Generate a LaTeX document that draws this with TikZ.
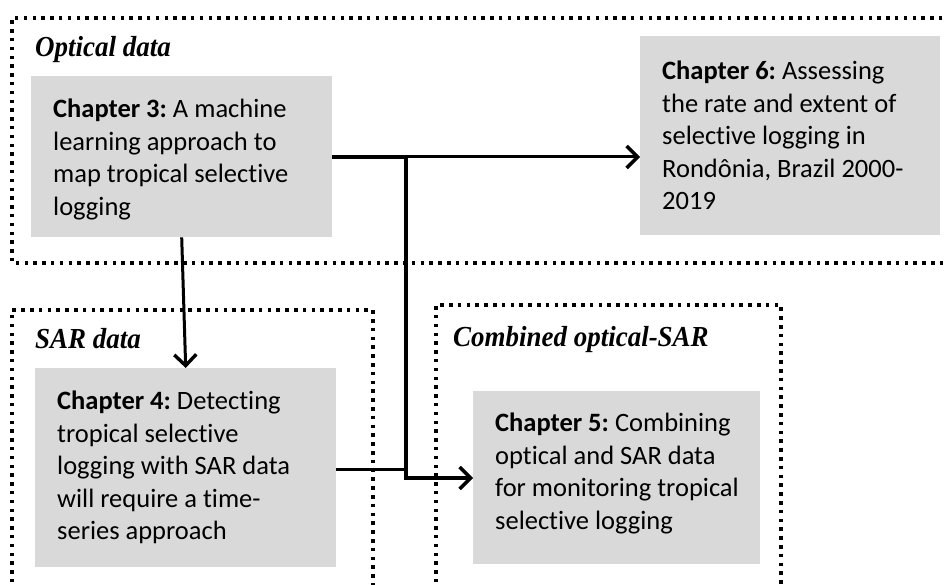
\documentclass[tikz,border=0pt]{standalone}
\usepackage{fontspec}
\setmainfont{Carlito}[Ligatures=NoCommon]
\newfontfamily\headfont{Liberation Serif}[FakeStretch=0.93]
\usetikzlibrary{arrows.meta}
\definecolor{boxgray}{HTML}{D9D9D9}
\newcommand{\chapsetup}{\fontsize{26.5}{32.5}\selectfont\frenchspacing}
\tikzset{
  chapbox/.style={fill=boxgray, draw=none, anchor=north west, inner sep=0pt},
  chaptext/.style={anchor=west, inner sep=0pt, align=left, font=\chapsetup},
  grouplabel/.style={anchor=base west, inner sep=0pt,
    font=\headfont\bfseries\itshape\fontsize{29}{34}\selectfont},
  groupframe/.style={line width=3.2pt, dash pattern=on 3.5pt off 5.3pt},
  link/.style={line width=3pt},
  boldlink/.style={line width=4.6pt},
  barb/.style={-{Straight Barb[length=11pt,width=22pt,line width=3.4pt]}},
}
\begin{document}
\begin{tikzpicture}[x=1pt,y=-1pt]
\useasboundingbox (0,0) rectangle (947,585);

% dotted group frames (open where they leave the page)
\draw[groupframe] (960,18) -- (12,18) -- (12,263) -- (960,263);
\draw[groupframe] (12,600) -- (12,310) -- (373,310) -- (373,600);
\draw[groupframe] (436,600) -- (436,305) -- (781,305) -- (781,600);

% group headings
\node[grouplabel] (lopt) at (35,57) {Optical data};
\node[grouplabel] (lsar) at (35,348) {SAR data};
\node[grouplabel] (lcomb) at (453,346) {Combined optical-SAR};

% chapter boxes
\node[chapbox, minimum width=301pt, minimum height=161pt] (c3) at (31,76) {};
\node[chapbox, minimum width=300pt, minimum height=199pt] (c6) at (640,36) {};
\node[chapbox, minimum width=301pt, minimum height=199pt] (c4) at (35,368) {};
\node[chapbox, minimum width=287pt, minimum height=173pt] (c5) at (473,391) {};

% chapter texts
\node[chaptext] (t3) at ([shift={(22,3)}]c3.west)
  {\textbf{Chapter 3:} A machine\\learning approach to\\map tropical selective\\logging};
\node[chaptext] (t6) at ([shift={(22,0)}]c6.west)
  {\textbf{Chapter 6:} Assessing\\the rate and extent of\\selective logging in\\Rondônia, Brazil 2000-\\2019};
\node[chaptext] (t4) at ([shift={(22,0)}]c4.west)
  {\textbf{Chapter 4:} Detecting\\tropical selective\\logging with SAR data\\will require a time-\\series approach};
\node[chaptext] (t5) at ([shift={(22,-4)}]c5.west)
  {\textbf{Chapter 5:} Combining\\optical and SAR data\\for monitoring tropical\\selective logging};

% connectors
\coordinate (j1) at (406,157);
\coordinate (j2) at (406,478);
\draw[link, barb] (c3.south) -- (c4.north);
\draw[boldlink] (c3.east |- j1) -- (j1);
\draw[link, barb] (j1) -- (c6.west |- j1);
\draw[line width=3.6pt] (j1) -- (j2);
\draw[link] (c4.east |- 0,469) -- (406,469);
\draw[boldlink, barb] ([xshift=-1.8pt]j2) -- (c5.west |- j2);
\end{tikzpicture}
\end{document}
